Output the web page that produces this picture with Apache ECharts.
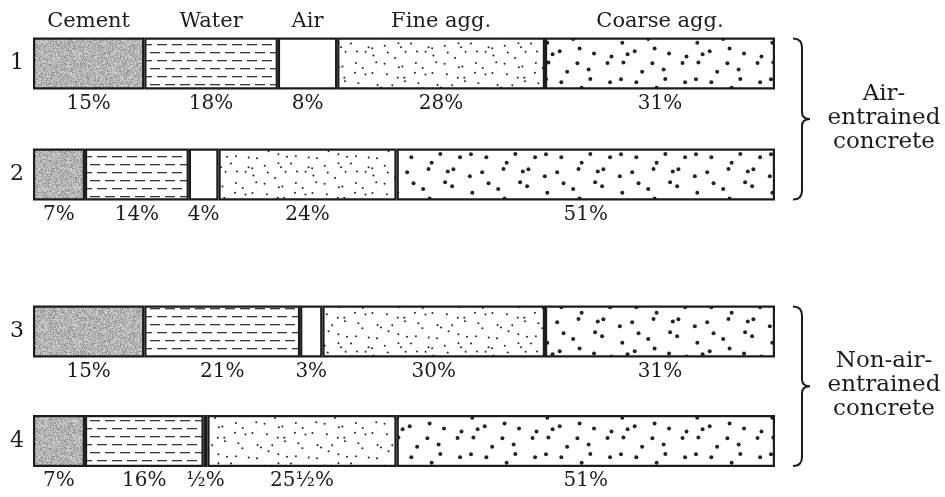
<!DOCTYPE html>
<html>
<head>
<meta charset="utf-8">
<title>Concrete mix proportions</title>
<script src="https://cdn.jsdelivr.net/npm/echarts@6/dist/echarts.min.js"></script>
<style>
  html, body { margin: 0; padding: 0; background: #ffffff; }
  #chart { width: 945px; height: 497px; }
</style>
</head>
<body>
<div id="chart"></div>
<script>
// Proportions by absolute volume (%) for four concrete mixes
const mixes = ['1', '2', '3', '4'];
const components = ['Cement', 'Water', 'Air', 'Fine agg.', 'Coarse agg.'];
const cement = [15, 7, 15, 7];
const water  = [18, 14, 21, 16];
const air    = [8, 4, 3, 0.5];
const fine   = [28, 24, 30, 25.5];
const coarse = [31, 51, 31, 51];
const groupLabels = ['Air-\nentrained\nconcrete', 'Non-air-\nentrained\nconcrete'];

const valuesByComponent = [cement, water, air, fine, coarse];

const SERIF = '"DejaVu Serif", "Liberation Serif", serif';
const INK = '#1c1c1c';
const BAR_H = 52;

// deterministic hash used for texture grain
function grain(x, y, k) {
  const s = Math.sin(x * 12.9898 + y * 78.233 + (k || 0) * 37.719) * 43758.5453;
  return s - Math.floor(s);
}

function cementTexture() {
  const c = document.createElement('canvas');
  c.width = 96; c.height = 96;
  const ctx = c.getContext('2d');
  const img = ctx.createImageData(96, 96);
  for (let y = 0; y < 96; y++) {
    for (let x = 0; x < 96; x++) {
      const g = grain(x, y, 1);
      const v = Math.round(140 + g * 80);
      const i = (y * 96 + x) * 4;
      img.data[i] = v; img.data[i + 1] = v; img.data[i + 2] = v; img.data[i + 3] = 255;
    }
  }
  ctx.putImageData(img, 0, 0);
  return c;
}

function waterTexture() {
  const c = document.createElement('canvas');
  c.width = 30; c.height = 16;
  const ctx = c.getContext('2d');
  ctx.fillStyle = '#ffffff';
  ctx.fillRect(0, 0, 30, 16);
  ctx.fillStyle = '#3a3a3a';
  // two rows of dashes, second row offset
  [[0, 4], [15, 4], [7, 12], [22, 12], [-8, 12]].forEach(function (p) {
    ctx.fillRect(p[0], p[1], 10, 1.3);
  });
  return c;
}

function dotTexture(size, cell, radius, seed) {
  const c = document.createElement('canvas');
  c.width = size; c.height = size;
  const ctx = c.getContext('2d');
  ctx.fillStyle = '#ffffff';
  ctx.fillRect(0, 0, size, size);
  ctx.fillStyle = '#222222';
  const n = size / cell;
  for (let i = 0; i < n; i++) {
    for (let j = 0; j < n; j++) {
      const px = i * cell + grain(i, j, seed) * (cell - 2 * radius) + radius;
      const py = j * cell + grain(j, i, seed + 3) * (cell - 2 * radius) + radius;
      ctx.beginPath();
      ctx.arc(px, py, radius, 0, Math.PI * 2);
      ctx.fill();
    }
  }
  return c;
}

const fills = [
  { image: cementTexture(), repeat: 'repeat' },
  { image: waterTexture(), repeat: 'repeat' },
  '#ffffff',
  { image: dotTexture(60, 10, 1.0, 5), repeat: 'repeat' },
  { image: dotTexture(75, 15, 2.0, 9), repeat: 'repeat' }
];

function pct(v) {
  const whole = Math.floor(v);
  const half = (v - whole) === 0.5;
  return (whole ? String(whole) : '') + (half ? '\u00BD' : '') + '%';
}

const groups = [[0, 1], [2, 3]];

const grids = [
  { left: 33, right: 170, top: 8, height: 222 },
  { left: 33, right: 170, top: 276.75, height: 219 }
];

const xAxes = grids.map(function (g, gi) {
  return { type: 'value', gridIndex: gi, min: 0, max: 100, show: false };
});

const yAxes = groups.map(function (rows, gi) {
  return {
    type: 'category', gridIndex: gi, inverse: true,
    data: rows.map(function (r) { return mixes[r]; }),
    axisLine: { show: false }, axisTick: { show: false }, splitLine: { show: false },
    axisLabel: { fontFamily: SERIF, fontSize: 22, color: INK, margin: 9 }
  };
});

const series = [];
groups.forEach(function (rows, gi) {
  components.forEach(function (name, ci) {
    series.push({
      name: name, type: 'bar', stack: 'mix' + gi, xAxisIndex: gi, yAxisIndex: gi,
      barWidth: BAR_H, barGap: '-100%', silent: true,
      data: rows.map(function (r) { return valuesByComponent[ci][r]; }),
      itemStyle: { color: fills[ci], borderColor: INK, borderWidth: 2.2 },
      label: {
        show: true, position: 'bottom', distance: 4,
        fontFamily: SERIF, fontSize: 20, color: INK,
        formatter: function (p) { return pct(p.value); }
      }
    });
  });
});

// component names above the first mix
components.forEach(function (name, ci) {
  series.push({
    name: name + ' header', type: 'bar', stack: 'header', xAxisIndex: 0, yAxisIndex: 0,
    barWidth: BAR_H, barGap: '-100%', silent: true, z: 1,
    data: [valuesByComponent[ci][0], '-'],
    itemStyle: { color: 'rgba(0,0,0,0)', borderWidth: 0 },
    label: {
      show: true, position: 'top', distance: 5,
      fontFamily: SERIF, fontSize: 21, color: INK,
      formatter: function () { return name; }
    }
  });
});

// braces with group captions
groups.forEach(function (rows, gi) {
  series.push({
    type: 'custom', xAxisIndex: gi, yAxisIndex: gi, silent: true,
    data: [[100, 0]],
    encode: { x: 0, y: 1 },
    renderItem: function (params, api) {
      const a = api.coord([100, 0]);
      const b = api.coord([100, 1]);
      const top = a[1] - BAR_H / 2 + 1;
      const bot = b[1] + BAR_H / 2 - 1;
      const mid = (top + bot) / 2;
      const xe = a[0] + 18, xm = a[0] + 27, xt = a[0] + 35;
      const r = 9;
      const d = 'M' + xe + ' ' + top +
        ' Q' + xm + ' ' + top + ' ' + xm + ' ' + (top + r) +
        ' L' + xm + ' ' + (mid - 7) +
        ' Q' + xm + ' ' + mid + ' ' + xt + ' ' + mid +
        ' Q' + xm + ' ' + mid + ' ' + xm + ' ' + (mid + 7) +
        ' L' + xm + ' ' + (bot - r) +
        ' Q' + xm + ' ' + bot + ' ' + xe + ' ' + bot;
      return {
        type: 'group',
        children: [
          { type: 'path', shape: { pathData: d }, style: { fill: 'none', stroke: INK, lineWidth: 2 } },
          {
            type: 'text',
            style: {
              x: a[0] + 109, y: mid - 1,
              text: groupLabels[gi],
              font: '23px ' + SERIF,
              lineHeight: 24,
              align: 'center', verticalAlign: 'middle',
              fill: INK
            }
          }
        ]
      };
    }
  });
});

const chart = echarts.init(document.getElementById('chart'), null, { renderer: 'canvas' });
chart.setOption({
  backgroundColor: '#ffffff',
  animation: false,
  grid: grids,
  xAxis: xAxes,
  yAxis: yAxes,
  series: series
});
</script>
</body>
</html>
